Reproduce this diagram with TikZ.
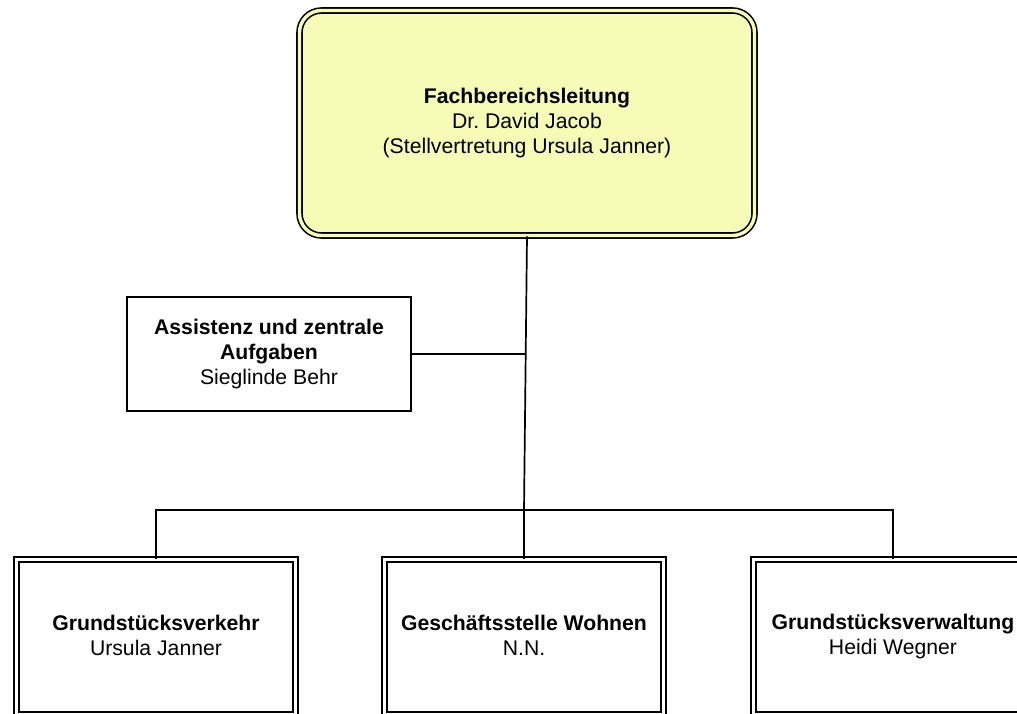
\documentclass[tikz,border=0pt]{standalone}
\usepackage{fontspec}
\setmainfont{Liberation Sans}
\frenchspacing
\definecolor{headyellow}{RGB}{246,252,182}
\tikzset{
  every node/.style={font=\fontsize{21.2}{25}\selectfont, align=center, inner sep=0pt,
    execute at begin node=\rule{0pt}{21pt}, execute at end node=\rule[-3pt]{0pt}{3pt}},
  headbox/.style={draw=black, line width=1.6pt, double=headyellow, double distance=3.4pt,
    fill=headyellow, rounded corners=22pt, minimum width=455pt, minimum height=225pt},
  unitbox/.style={draw=black, line width=1.6pt, double=white, double distance=3.4pt,
    fill=white, minimum width=279pt, minimum height=155pt},
  staffbox/.style={draw=black, line width=1.6pt, fill=white, minimum width=284pt, minimum height=114pt},
  conn/.style={draw=black, line width=1.7pt}
}
\begin{document}
\begin{tikzpicture}[x=1pt,y=-1pt]
\useasboundingbox[fill=white] (0,0) rectangle (1017,713);
\node[headbox] (head) at (527,123) {\textbf{Fachbereichsleitung}\\Dr. David Jacob\\(Stellvertretung Ursula Janner)};
\node[staffbox] (assist) at (269,354) {\textbf{Assistenz und zentrale}\\\textbf{Aufgaben}\\Sieglinde Behr};
\node[unitbox] (b1) at (156,637) {\textbf{Grundstücksverkehr}\\Ursula Janner};
\node[unitbox] (b2) at (524,637) {\textbf{Geschäftsstelle Wohnen}\\N.N.};
\node[unitbox] (b3) at (893,637) {\textbf{Grundstücksverwaltung}\\Heidi Wegner};
\coordinate (bus) at (524,510);
\coordinate (aj) at (525.5,354);
\draw[conn] (head.south) -- (bus);
\draw[conn] (assist.east) -- (aj);
\draw[conn] (b1.north) |- (bus) -| (b3.north);
\draw[conn] (b2.north) -- (bus);
\end{tikzpicture}
\end{document}
